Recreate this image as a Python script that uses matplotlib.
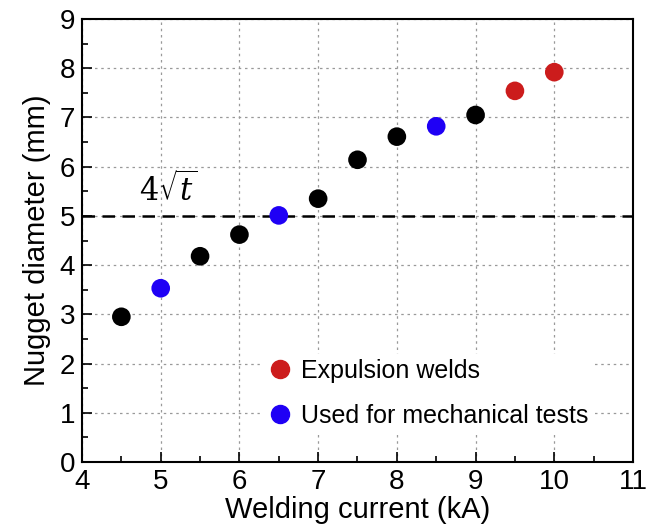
import matplotlib
matplotlib.use('Agg')
import matplotlib.pyplot as plt
from matplotlib.lines import Line2D
from matplotlib.ticker import MultipleLocator

plt.rcParams['font.family'] = ['Liberation Sans', 'DejaVu Sans']
plt.rcParams['mathtext.fontset'] = 'dejavuserif'

current = [4.5, 5.0, 5.5, 6.0, 6.5, 7.0, 7.5, 8.0, 8.5, 9.0, 9.5, 10.0]
diameter = [2.95, 3.53, 4.18, 4.62, 5.01, 5.35, 6.14, 6.61, 6.82, 7.05, 7.54, 7.92]
group = ['normal', 'test', 'normal', 'normal', 'test', 'normal',
         'normal', 'normal', 'test', 'normal', 'expulsion', 'expulsion']
limit_4sqrt_t = 5.0

colors = {'normal': 'black', 'test': '#1f00f5', 'expulsion': '#cc1c1c'}

fig = plt.figure(figsize=(6.57, 5.32), dpi=100)
ax = fig.add_axes([82 / 657, 70 / 532, 551 / 657, 443 / 532])

ax.grid(True, color='#999999', linestyle=(0, (2, 3)), linewidth=0.9)
ax.set_axisbelow(True)

ax.axhline(limit_4sqrt_t, color='black', linestyle=(0, (5, 3)), linewidth=1.8, zorder=2)
ax.text(4.73, limit_4sqrt_t + 0.3, r'$4\sqrt{t}$', fontsize=22, ha='left', va='baseline')

ax.scatter(current, diameter, c=[colors[g] for g in group], s=180, zorder=3, linewidths=0)

ax.set_xlim(4, 11)
ax.set_ylim(0, 9)
ax.xaxis.set_major_locator(MultipleLocator(1))
ax.xaxis.set_minor_locator(MultipleLocator(0.5))
ax.yaxis.set_major_locator(MultipleLocator(1))
ax.yaxis.set_minor_locator(MultipleLocator(0.5))
ax.tick_params(which='both', direction='in', top=False, right=False, labelsize=20)
ax.tick_params(which='major', length=7, width=1.2, pad=5)
ax.tick_params(which='minor', length=4, width=1.2)
for s in ax.spines.values():
    s.set_linewidth(1.5)

ax.set_xlabel('Welding current (kA)', fontsize=21, labelpad=1)
ax.set_ylabel('Nugget diameter (mm)', fontsize=21, labelpad=6)

handles = [
    Line2D([], [], marker='o', linestyle='none', color=colors['expulsion'], markersize=13),
    Line2D([], [], marker='o', linestyle='none', color=colors['test'], markersize=13),
]
leg = ax.legend(handles, ['Expulsion welds', 'Used for mechanical tests'],
                loc='lower left', bbox_to_anchor=(0.30, 0.037), fontsize=18,
                frameon=True, framealpha=1, edgecolor='white', fancybox=False,
                handletextpad=0.25, labelspacing=0.85, borderpad=0.2, handlelength=1.2)

fig.savefig('out.png', dpi=100)
